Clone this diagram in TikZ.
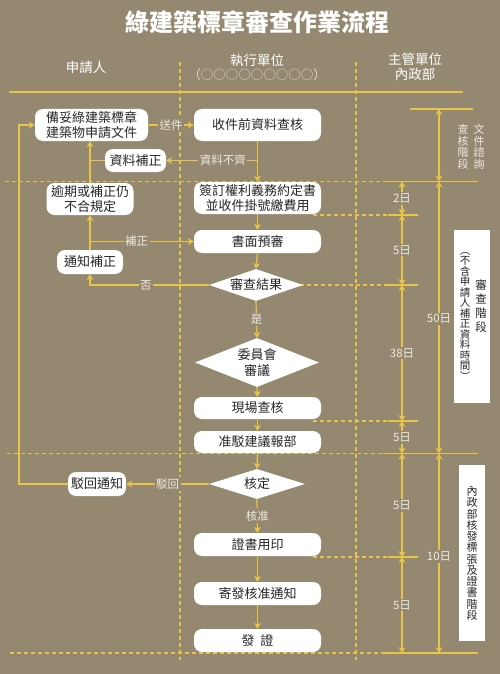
\documentclass[tikz,border=0pt]{standalone}
\usepackage{fontspec}
\setmainfont{Noto Sans CJK TC}
\usetikzlibrary{arrows.meta,shapes.geometric}
\definecolor{bg}{RGB}{148,137,112}
\definecolor{gold}{RGB}{232,196,72}
\definecolor{lbl}{RGB}{238,234,224}
\definecolor{ink}{RGB}{38,38,38}
\definecolor{circ}{RGB}{222,216,204}
\begin{document}
\begin{tikzpicture}[x=1pt,y=-1pt,
  box/.style={rectangle, rounded corners=8pt, fill=white, text=ink, align=center, inner sep=0pt, font=\fontsize{13}{15}\selectfont},
  midbox/.style={box, minimum width=127pt},
  dia/.style={diamond, fill=white, text=ink, align=center, inner sep=0pt, font=\fontsize{13}{15.5}\selectfont},
  flow/.style={draw=gold, line width=1.2pt, -{Stealth[length=6pt,width=7pt]}},
  plain/.style={draw=gold, line width=1.2pt},
  dline/.style={draw=gold, line width=1.1pt, dash pattern=on 4pt off 3pt},
  dim/.style={draw=gold, line width=1.2pt, {Stealth[length=6pt,width=7pt]}-{Stealth[length=6pt,width=7pt]}},
  lab/.style={fill=bg, text=lbl, inner sep=1.5pt, font=\fontsize{11.5}{12}\selectfont},
  head/.style={text=white, align=center, font=\fontsize{13.5}{14}\selectfont},
  vt/.style={text=ink, align=center, inner sep=0pt}
]
\useasboundingbox (0,0) rectangle (500,674);
\fill[bg] (0,0) rectangle (500,674);

% title and headers
\node[text=white, font=\fontsize{24}{26}\selectfont\bfseries] (title) at (257,22) {綠建築標章審查作業流程};
\node[head] (h1) at (86,67) {申請人};
\node[head] (h2) at (257,60) {執行單位};
\node[text=circ, font=\fontsize{12.5}{13}\selectfont] (h2b) at (257,75) {（○○○○○○○○○）};
\node[head, font=\fontsize{13.5}{15}\selectfont] (h3) at (415,67) {主管單位\\內政部};

% grid lines
\draw[dline] (180,62) -- (180,660);
\draw[dline] (356,62) -- (356,660);
\draw[plain] (9,92) -- (463,92);
\draw[dline] (5,181.5) -- (383,181.5);
\draw[plain] (383,181.5) -- (478,181.5);
\draw[dline] (7,453.5) -- (383,453.5);
\draw[plain] (383,453.5) -- (478,453.5);
\draw[dline] (10,653) -- (385,653);
\draw[plain] (385,653) -- (478,653);
\draw[plain] (410,109) -- (473,109);
\foreach \yy in {215,421,557} {
  \draw[dline] (313,\yy) -- (388,\yy);
}
\draw[dline] (300,285) -- (388,285);
\foreach \yy in {215,285,421,557} {
  \draw[plain] (388,\yy) -- (418,\yy);
}

% dimension arrows
\draw[dim] (439,109) -- (439,181.5);
\draw[dim] (402,181.5) -- node[lab]{2日} (402,215);
\draw[dim] (402,215) -- node[lab]{5日} (402,285);
\draw[dim] (402,285) -- node[lab]{38日} (402,421);
\draw[dim] (402,421) -- node[lab]{5日} (402,453.5);
\draw[dim] (402,453.5) -- node[lab]{5日} (402,557);
\draw[dim] (402,557) -- node[lab]{5日} (402,653);
\draw[dim] (439,181.5) -- node[lab,pos=0.505]{50日} (439,453.5);
\draw[dim] (439,453.5) -- node[lab,pos=0.515]{10日} (439,653);

% right side texts
\node[vt, text=lbl, font=\fontsize{11}{11.5}\selectfont] (t1a) at (479,147) {文\\件\\諮\\詢};
\node[vt, text=lbl, font=\fontsize{11}{11.5}\selectfont] (t1b) at (463,147) {查\\核\\階\\段};
\fill[white] (454,230) rectangle (490,403);
\node[vt, font=\fontsize{11.5}{14}\selectfont] (t2a) at (481,306) {審\\查\\階\\段};
\node[vt, font=\fontsize{10.5}{10.5}\selectfont] (t2b) at (465,316.5) {︵\\不\\含\\申\\請\\人\\補\\正\\資\\料\\時\\間\\︶};
\fill[white] (459,465) rectangle (485,641);
\node[vt, font=\fontsize{11}{11.25}\selectfont] (t3) at (472,553.5) {內\\政\\部\\核\\發\\標\\張\\及\\證\\書\\階\\段};

% middle column nodes
\node[midbox, minimum height=32pt] (recv) at (257.5,125) {收件前資料查核};
\node[midbox, minimum height=32pt, font=\fontsize{13}{15.5}\selectfont] (sign) at (257.5,198) {簽訂權利義務約定書\\並收件掛號繳費用};
\node[midbox, minimum height=23pt] (prerev) at (257.5,241.5) {書面預審};
\node[dia, shape aspect=3, minimum width=94pt, minimum height=32pt] (result) at (256,285) {審查結果};
\node[dia, shape aspect=2.5, minimum width=124pt, minimum height=49pt] (comm) at (257,362.5) {委員會\\審議};
\node[midbox, minimum height=22pt] (site) at (257.5,408) {現場查核};
\node[midbox, minimum height=22pt] (rec) at (257.5,442) {准駁建議報部};
\node[dia, shape aspect=3.2, minimum width=96pt, minimum height=30pt] (appr) at (257,484) {核定};
\node[midbox, minimum height=23pt] (print) at (257.5,544.5) {證書用印};
\node[midbox, minimum height=23pt] (send) at (257.5,593.5) {寄發核准通知};
\node[midbox, minimum height=23pt] (issue) at (257.5,640.5) {發\hspace{6pt}證};

% left column nodes
\node[box, minimum width=113pt, minimum height=32pt] (A) at (91.5,125) {備妥綠建築標章\\建築物申請文件};
\node[box, minimum width=61pt, minimum height=23pt] (B) at (135.5,160.5) {資料補正};
\node[box, minimum width=87pt, minimum height=32pt] (C) at (90,199) {逾期或補正仍\\不合規定};
\node[box, minimum width=66pt, minimum height=24pt] (D) at (90,262) {通知補正};
\node[box, minimum width=58pt, minimum height=24pt] (E) at (97,484) {駁回通知};
\coordinate (lb) at (19,0);
\coordinate (ms) at (257.5,160.5);

% connectors
\draw[flow] (A.east) -- node[lab]{送件} (recv.west);
\draw[flow] (recv.south) -- (sign.north);
\draw[flow] (ms) -- node[lab,pos=0.38]{資料不齊} (B.east);
\draw[flow] (C.north) -- (C.north |- A.south);
\draw[plain] (B.west) -- (C.north |- B.west);
\draw[flow] (D.north) -- (D.north |- C.south);
\draw[flow] (D.north |- prerev.west) -- node[lab,pos=0.45]{補正} (prerev.west);
\draw[flow] (sign.south) -- (prerev.north);
\draw[flow] (prerev.south) -- (result.north);
\draw[flow] (result.west) -- node[lab,pos=0.53]{否} (D.south |- result.west) -- (D.south);
\draw[flow] (result.south) -- node[lab]{是} (comm.north);
\draw[flow] (comm.south) -- (site.north);
\draw[flow] (site.south) -- (rec.north);
\draw[flow] (rec.south) -- (appr.north);
\draw[flow] (appr.west) -- node[lab]{駁回} (E.east);
\draw[flow] (E.west) -- (E.west -| lb) -- (lb |- A.west) -- (A.west);
\draw[flow] (appr.south) -- node[lab]{核准} (print.north);
\draw[flow] (print.south) -- (send.north);
\draw[flow] (send.south) -- (issue.north);
\end{tikzpicture}
\end{document}
